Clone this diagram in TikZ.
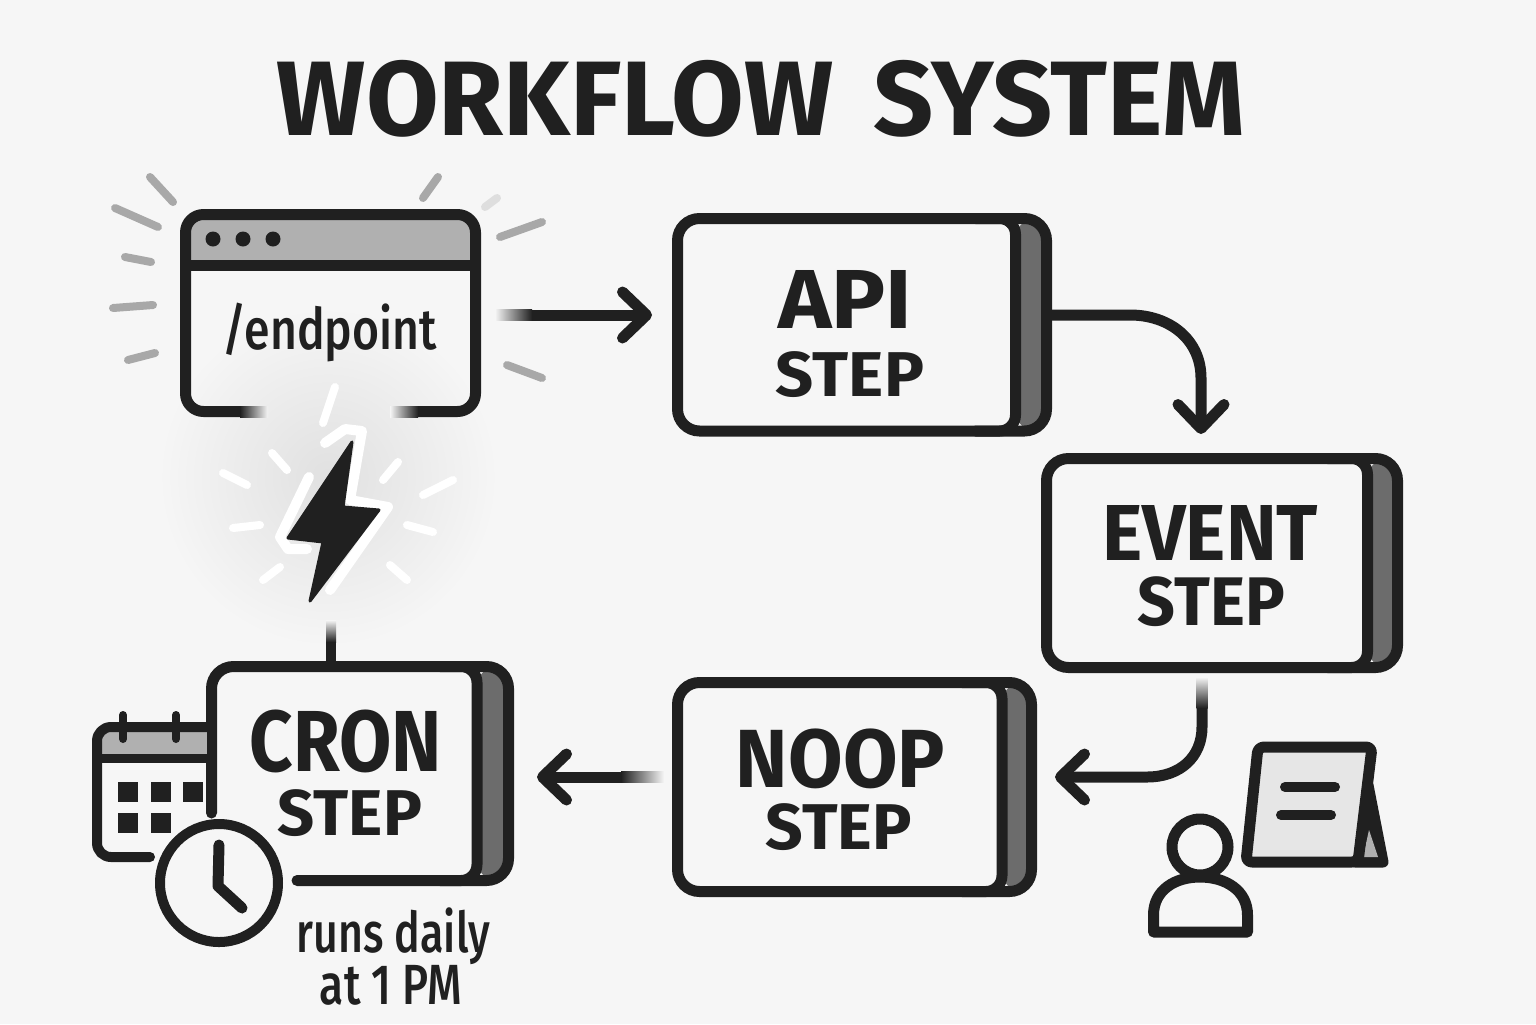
\documentclass[tikz,border=0pt]{standalone}
\usepackage{fontspec}
\setmainfont{Fira Sans}
\newfontfamily\med{Fira Sans Medium}
\usepackage{graphicx}
\usetikzlibrary{arrows.meta,calc}
\definecolor{bg}{HTML}{F6F6F6}
\definecolor{ink}{HTML}{202020}
\definecolor{band}{HTML}{B0B0B0}
\definecolor{side}{HTML}{6C6C6C}
\definecolor{screen}{HTML}{E6E6E6}
\definecolor{spark}{HTML}{A8A8A8}
\tikzset{
  stepbox/.style={draw=ink,line width=5.5pt,rounded corners=11pt,inner sep=0pt},
  ghost/.style={inner sep=0pt,outer sep=0pt},
  txt/.style={inner sep=0pt,outer sep=0pt,text=ink},
  ln/.style={draw=ink,line width=5.5pt,line cap=round,line join=round},
  conn/.style={draw=ink,line width=5.5pt,line cap=round,line join=round,
    -{Straight Barb[length=12pt,width=23pt,round]}},
  sparkline/.style={draw=spark,line width=4pt,line cap=round},
  ray/.style={draw=white,line width=4pt,line cap=round},
}
% name, centre x, centre y, width, height, text
\newcommand\lbl[6]{\node[txt] (#1) at (#2,#3) {\resizebox*{\dimexpr#4pt/2\relax}{\dimexpr#5pt/2\relax}{#6}};}
% name, left, top, right, bottom (stroke centre lines), divider x
\newcommand\stepnode[6]{%
  \fill[side,rounded corners=10pt] (#6,#3) -- (#4,#3) -- (#4,#5) -- (#6,#5) -- cycle;
  \node[stepbox,minimum width={(#4-#2)*0.5pt},minimum height={(#5-#3)*0.5pt}] (#1) at ({(#2+#4)/2},{(#3+#5)/2}) {};
  \draw[ln,rounded corners=8pt] ({#6-40},#3) -- (#6,#3) -- (#6,#5) -- ({#6-40},#5);
}
\begin{document}
\begin{tikzpicture}[x=0.5pt,y=-0.5pt]
\useasboundingbox (0,0) rectangle (1536,1024);
\fill[bg] (0,0) rectangle (1536,1024);

% title
\lbl{title}{761}{98.5}{968}{77}{\bfseries WORKFLOW\hspace{0.38em}SYSTEM}

% glow behind the bolt
\shade[inner color=black!12,outer color=bg] (328,477) circle (170);

% browser window
\node[ghost,minimum width=150.5pt,minimum height=104pt] (win) at (330.5,313) {};
\fill[band] (190,220) rectangle (471,262);
\draw[ln,rounded corners=9pt] (245,411.5) -- (185.5,411.5) -- (185.5,214.5) -- (475.5,214.5) -- (475.5,411.5) -- (415,411.5);
\draw[ln,line cap=butt] (185.5,265) -- (475.5,265);
\fill[ink] (213,239) circle (7.5) (243,239) circle (7.5) (273,239) circle (7.5);
\shade[left color=ink,right color=bg] (240,406) rectangle (268,417);
\shade[left color=bg,right color=ink] (390,406) rectangle (418,417);
\lbl{endp}{330}{332.5}{214}{59}{\med /endpoint}

% sparks round the window
\foreach \a/\b/\c/\d in {150/177/173/202,115/208/158/227,125/257/151/262,113/308/153/305,128/360/155/353,438/177/423/198,542/222/500/237,507/365/542/378}
  \draw[sparkline] (\a,\b) -- (\c,\d);
\draw[sparkline,draw=black!13] (497,198) -- (485,207);

% bolt
\foreach \a/\b/\c/\d in {272/453/287/470,223/473/247/485,233/528/260/525,263/580/280/567,398/462/383/480,453/480/423/495,407/525/433/532,390/565/407/580,335/387/323/423}
  \draw[ray] (\a,\b) -- (\c,\d);
\draw[draw=white,line width=5pt,line cap=round,line join=round] (325,443) -- (345,429) -- (362,431) -- (350,500) -- (388,507) -- (330,590);
\draw[draw=white,line width=5pt,line cap=round,line join=round] (309,477) -- (280,537) -- (288,549) -- (307,549);
\path[fill=ink,draw=ink,line width=1.5pt,line join=round] (352,442) -- (288,538) -- (323,542) -- (310,601) -- (379,510) -- (343,507) -- cycle;

% steps
\stepnode{api}{677.5}{218.5}{1046.5}{431}{1015.5}
\lbl{apia}{845}{299}{134}{58}{\bfseries API}
\lbl{apib}{850}{375}{148}{46}{\bfseries STEP}

\stepnode{evt}{1046.5}{458.5}{1397.5}{667.5}{1367.5}
\lbl{evta}{1210}{532.5}{216}{55}{\bfseries EVENT}
\lbl{evtb}{1211.5}{602}{147}{50}{\bfseries STEP}

\stepnode{noop}{677.5}{682.5}{1031.5}{891.5}{1002}
\lbl{noopa}{840.5}{758.5}{209}{60}{\bfseries NOOP}
\lbl{noopb}{839}{827.5}{146}{47}{\bfseries STEP}

% cron step, open at its lower left
\node[ghost,minimum width=154pt,minimum height=112.5pt] (cron) at (360,773.5) {};
\fill[side,rounded corners=10pt] (477,666.5) -- (508.5,666.5) -- (508.5,880.5) -- (477,880.5) -- cycle;
\draw[ln,rounded corners=11pt] (211.5,813) -- (211.5,666.5) -- (508.5,666.5) -- (508.5,880.5) -- (297,880.5);
\draw[ln,rounded corners=8pt] (440,666.5) -- (477,666.5) -- (477,880.5) -- (440,880.5);
\lbl{crona}{346}{741.5}{192}{63}{\bfseries CRON}
\lbl{cronb}{350}{813.5}{144}{47}{\bfseries STEP}
\lbl{runa}{393.5}{936.5}{193}{57}{\med runs daily}
\lbl{runb}{391}{985}{142}{40}{\med at 1 PM}

% calendar
\fill[band] (100,732) rectangle (207,754);
\draw[ln,line width=5pt,rounded corners=7pt] (207,727) -- (97,727) -- (97,857) -- (150,857);
\draw[ln,line width=4.5pt,line cap=butt] (97,758) -- (207,758);
\draw[ln,line width=4pt] (123,715) -- (123,739) (176,715) -- (176,739);
\foreach \a/\b in {118/782,151/782,183/782,118/813,151/813}
  \fill[ink] (\a,\b) rectangle ++(20,20);

% clock
\node[draw=ink,line width=5pt,circle,minimum size=59pt,inner sep=0pt] (clock) at (219,883) {};
\draw[ln] (219,845) -- (218,886) -- (242,908);

% connectors
\draw[conn,shorten <=24.5pt,shorten >=10pt] (win.east |- 0,315) -- (api.west |- 0,315);
\shade[left color=bg,right color=ink] (495,309.5) rectangle (532,320.5);

\draw[conn,shorten >=9.5pt] (api.east |- 0,315) -- (1130,315) .. controls (1170,315) and (1201,340) .. (1201,378) -- (1201,0 |- evt.north);

\draw[conn,shorten <=16.5pt,shorten >=9pt] (1202,0 |- evt.south) -- (1202,727) .. controls (1202,757) and (1180,777) .. (1147,777) -- (noop.east |- 0,777);
\shade[top color=bg,bottom color=ink] (1196.5,677) rectangle (1207.5,708);

\draw[conn,shorten <=24.5pt,shorten >=11.5pt] (noop.west |- 0,777) -- (cron.east |- 0,777);
\shade[left color=ink,right color=bg] (621,771.5) rectangle (664,782.5);

\draw[ln,line width=5pt,line cap=butt] ([xshift=-14.5pt]cron.north) -- ([xshift=-14.5pt,yshift=10pt]cron.north);
\shade[top color=bg,bottom color=ink] (326,620) rectangle (336,642);

% person
\node[draw=ink,line width=5.5pt,circle,minimum size=28pt,inner sep=0pt] (head) at (1200,847) {};
\draw[ln] (1153.5,932) -- (1153.5,915) .. controls (1153.5,890) and (1175,877) .. (1200,877) .. controls (1225,877) and (1247.5,890) .. (1247.5,915) -- (1247.5,932) -- cycle;

% tablet
\fill[ink] (1368,785) -- (1383,862) -- (1355,862) -- cycle;
\draw[ln] (1368,785) -- (1383,862) -- (1355,862) -- cycle;
\fill[band] (1369,830) -- (1363,857) -- (1378,857) -- cycle;
\draw[ln,fill=screen,rounded corners=3pt] (1258,747) -- (1372,747) -- (1358,862) -- (1246,862) -- cycle;
\draw[ln,line width=5pt] (1285,787) -- (1335,787) (1281,815) -- (1331,815);
\end{tikzpicture}
\end{document}
